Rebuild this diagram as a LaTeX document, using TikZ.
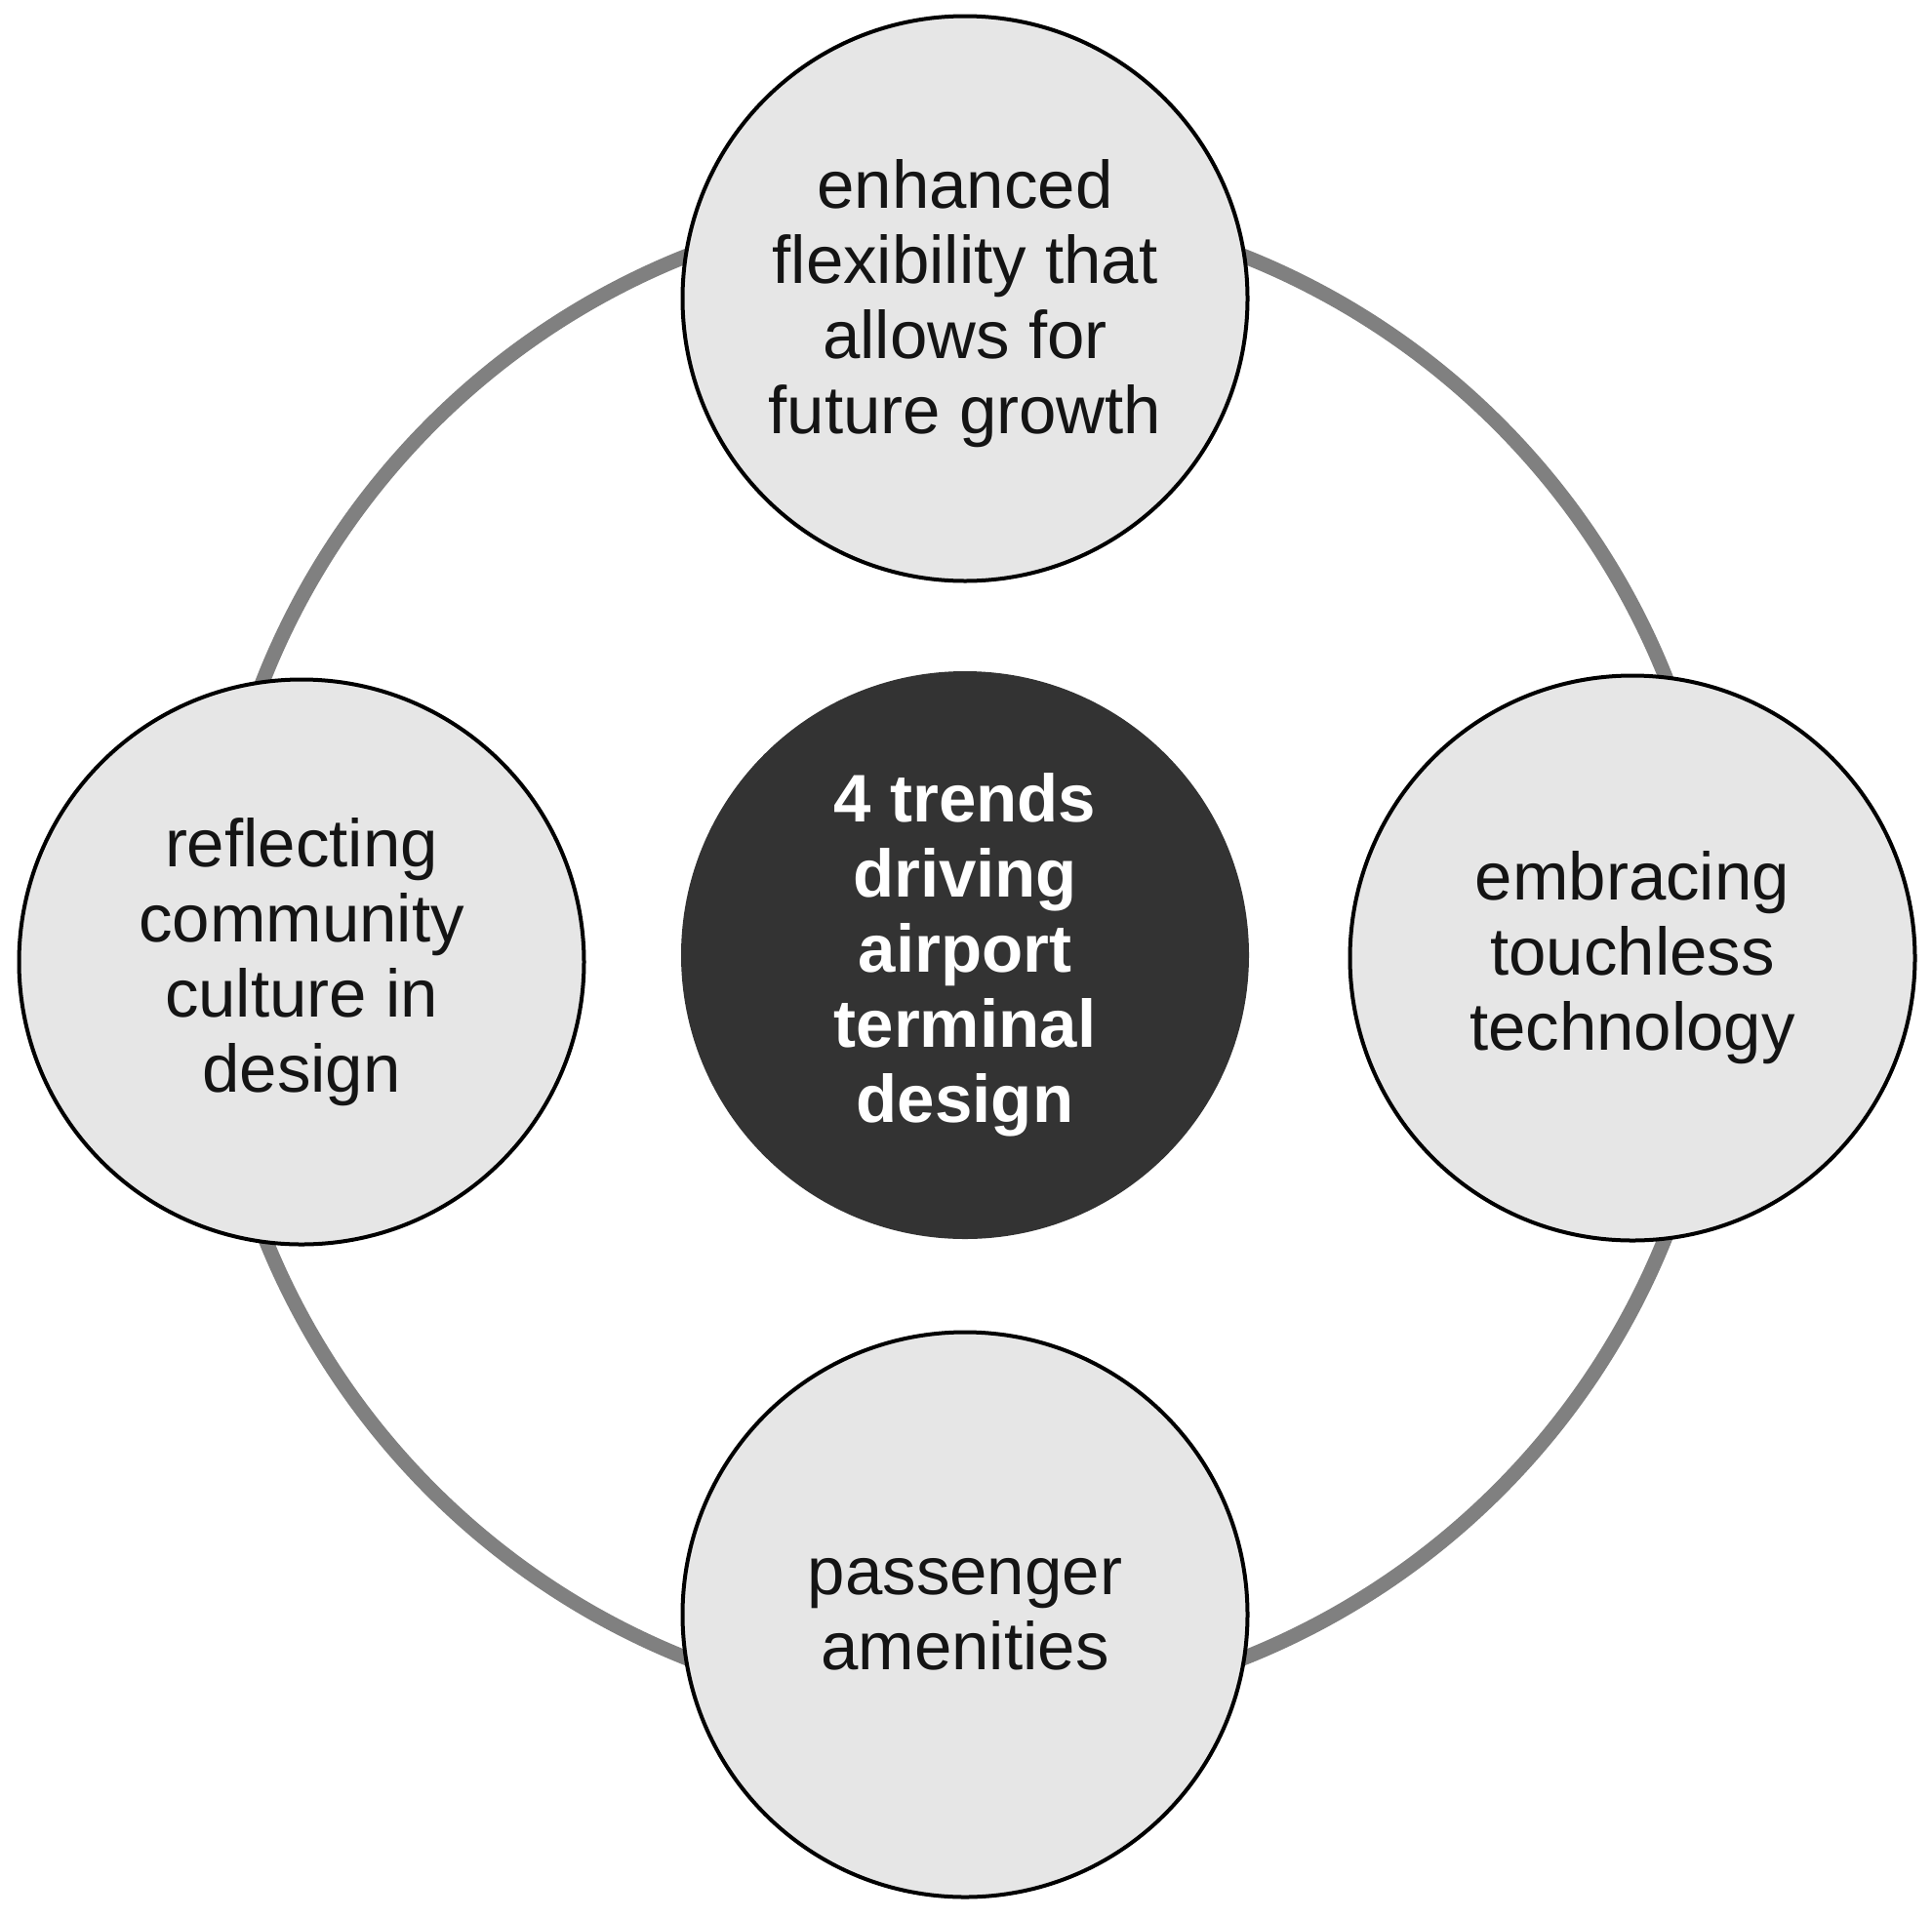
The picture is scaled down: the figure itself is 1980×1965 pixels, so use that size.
\documentclass[tikz,border=0pt]{standalone}
\usepackage{fontspec}
\setmainfont{Liberation Sans}
\definecolor{ringgray}{HTML}{808080}
\definecolor{bubblefill}{HTML}{E6E6E6}
\definecolor{hubfill}{HTML}{333333}
\begin{document}
\begin{tikzpicture}[x=1pt,y=-1pt,
  ringline/.style={circle, draw=ringgray, line width=15pt, minimum size=1546pt, inner sep=0pt},
  bubble/.style={circle, draw=black, line width=4pt, fill=bubblefill, minimum size=579pt,
    inner sep=0pt, align=center, text=black!92, font=\fontsize{69}{77}\selectfont},
  hub/.style={circle, fill=hubfill, minimum size=582pt, inner sep=0pt, align=center,
    text=white, font=\fontsize{69}{77}\selectfont\bfseries}]
\fill[white] (0,0) rectangle (1980,1965);
\useasboundingbox (0,0) rectangle (1980,1965);
\node[ringline] (ring) at (989,981) {};
\node[bubble] (top) at (989,306) {\rule{0pt}{60pt}enhanced\\flexibility that\\allows for\\future growth};
\node[bubble] (left) at (309,986) {reflecting\\community\\culture in\\design};
\node[bubble] (right) at (1673,982) {embracing\\touchless\\technology};
\node[bubble] (bottom) at (989,1655) {passenger\\amenities};
\node[hub] (hub) at (989,979) {4 trends\\driving\\airport\\terminal\\design};
\end{tikzpicture}
\end{document}
